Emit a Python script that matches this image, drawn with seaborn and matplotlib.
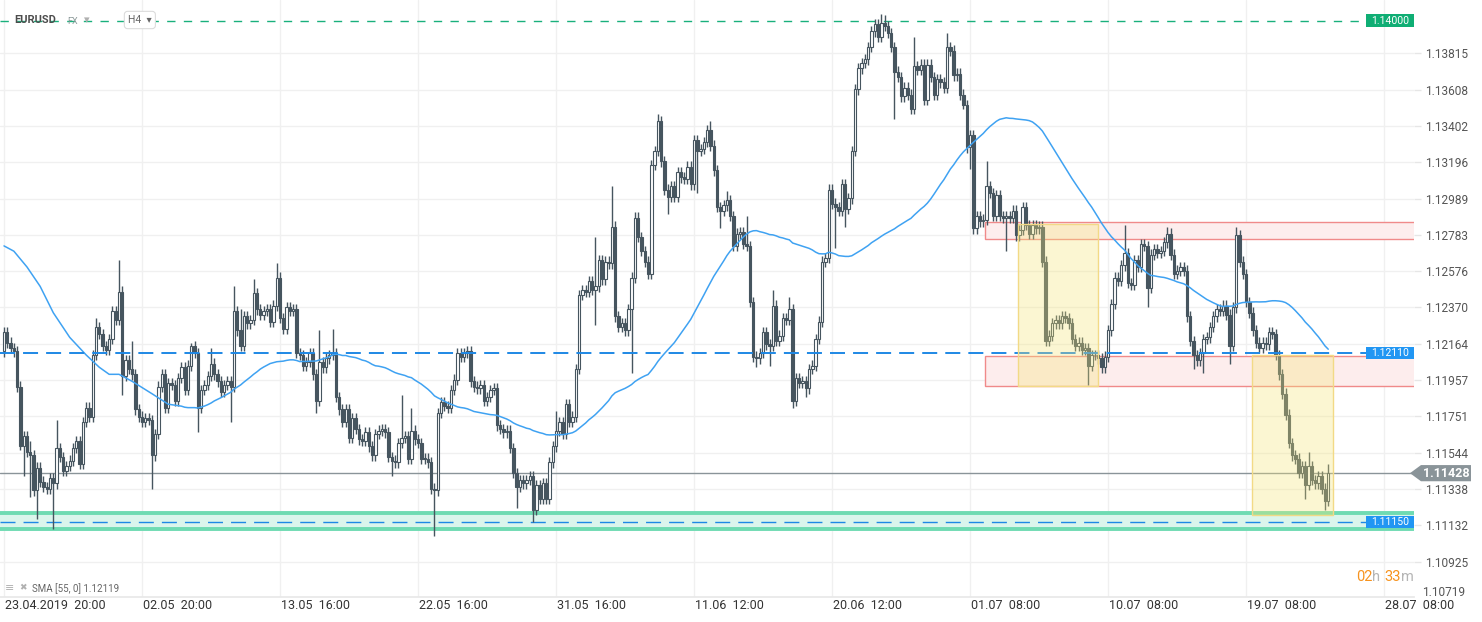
import numpy as np
import pandas as pd
import matplotlib
matplotlib.use("Agg")
import matplotlib.pyplot as plt
import seaborn as sns
from matplotlib.patches import Rectangle, Polygon
from matplotlib.transforms import blended_transform_factory as blend

# ---------------- data (prices in pips above 1.1000) ----------------
BASE, PIP = 1.1, 0.0001
FIRST_OPEN = 212
closes = [
    223, 217, 214, 212, 192, 158, 164, 155, 153, 133,
    146, 138, 135, 134, 140, 137, 157, 152, 144, 147,
    150, 157, 161, 148, 172, 180, 175, 210, 226, 222,
    215, 213, 219, 235, 230, 246, 198, 207, 202, 199,
    179, 175, 172, 174, 173, 153, 165, 192, 199, 180,
    194, 193, 184, 197, 203, 190, 204, 215, 211, 180,
    190, 193, 198, 205, 199, 195, 189, 193, 195, 192,
    235, 224, 215, 232, 228, 230, 245, 236, 233, 235,
    236, 229, 238, 254, 231, 225, 237, 235, 236, 211,
    210, 204, 206, 211, 199, 184, 206, 203, 208, 210,
    211, 186, 179, 172, 179, 163, 174, 168, 162, 161,
    166, 158, 153, 165, 167, 168, 166, 152, 150, 149,
    160, 163, 164, 151, 167, 162, 160, 151, 151, 149,
    134, 133, 177, 183, 181, 180, 190, 196, 211, 209,
    211, 212, 195, 192, 191, 193, 184, 186, 190, 191,
    170, 168, 166, 167, 157, 143, 135, 139, 137, 139,
    141, 122, 136, 128, 137, 128, 149, 158, 167, 172,
    165, 182, 172, 175, 202, 244, 247, 246, 252, 247,
    249, 264, 253, 263, 262, 283, 232, 226, 228, 224,
    236, 254, 288, 277, 269, 263, 256, 318, 326, 343,
    320, 304, 300, 306, 300, 314, 311, 310, 317, 307,
    332, 326, 327, 331, 338, 329, 315, 294, 292, 295,
    298, 289, 272, 279, 280, 273, 272, 240, 209, 208,
    211, 223, 216, 215, 238, 218, 221, 231, 230, 236,
    184, 197, 194, 195, 191, 202, 204, 219, 229, 263,
    265, 304, 296, 294, 292, 307, 293, 299, 326, 361,
    373, 376, 378, 385, 394, 398, 391, 399, 397, 393,
    385, 371, 368, 357, 362, 358, 350, 374, 372, 375,
    355, 375, 368, 358, 367, 365, 362, 385, 383, 369,
    370, 358, 352, 328, 335, 282, 289, 286, 287, 306,
    302, 289, 301, 289, 288, 289, 288, 292, 278, 281,
    294, 284, 279, 284, 282, 283, 263, 218, 221, 228,
    230, 228, 232, 231, 228, 219, 215, 217, 213, 214,
    204, 210, 210, 208, 203, 209, 224, 239, 254, 252,
    261, 268, 251, 250, 264, 260, 273, 272, 248, 267,
    270, 268, 269, 274, 279, 267, 256, 258, 260, 258,
    232, 218, 210, 207, 211, 219, 220, 226, 232, 236,
    235, 238, 233, 215, 237, 278, 263, 256, 240, 234,
    224, 217, 214, 217, 216, 223, 222, 210, 199, 188,
    176, 160, 153, 151, 143, 147, 136, 147, 139, 137,
    141, 134, 127, 142.8,
]
high_spikes = {0: 226, 8: 161, 16: 173, 28: 231, 35: 264, 39: 218, 57: 217, 63: 214,
               70: 249, 72: 236, 76: 253, 83: 262, 96: 224, 100: 225, 121: 187, 124: 180,
               168: 178, 180: 277, 185: 306, 199: 347, 215: 343, 220: 303, 226: 289,
               234: 247, 239: 243, 267: 404, 268: 403, 277: 391, 287: 393, 299: 320,
               341: 284, 354: 283, 375: 283, 397: 155, 403: 148}
low_spikes = {5: 156, 6: 141, 8: 129, 10: 117, 15: 111, 36: 187, 45: 134, 59: 166,
              69: 172, 95: 177, 118: 141, 131: 107, 156: 123, 161: 115, 180: 227,
              191: 200, 202: 290, 211: 302, 218: 282, 229: 203, 233: 204, 240: 180,
              244: 186, 253: 271, 256: 283, 271: 344, 292: 350, 294: 316, 305: 269,
              330: 193, 348: 237, 362: 202, 365: 200, 373: 205, 396: 128, 402: 122}
WICK = 3
sma_early_idx = [0, 3, 7, 11, 15, 20, 25, 29, 32, 35, 39, 45, 50]
sma_early = [272, 269, 260, 249, 234, 220, 210, 203, 199, 199, 195, 188, 182]
SMA_N = 55

grid_idx = [0, 42, 84, 126, 168, 210, 252, 294, 336, 378, 420]
x_labels = ["23.04.2019  20:00", "02.05  20:00", "13.05  16:00", "22.05  16:00",
            "31.05  16:00", "11.06  12:00", "20.06  12:00", "01.07  08:00",
            "10.07  08:00", "19.07  08:00", "28.07  08:00"]
y_ticks = [1.13815, 1.13608, 1.13402, 1.13196, 1.12989, 1.12783, 1.12576, 1.12370,
           1.12164, 1.11957, 1.11751, 1.11544, 1.11338, 1.11132, 1.10925, 1.10719]
level_top = 1.14000
level_mid = 1.12110
level_low = 1.11150
last_price = 1.11428
teal_band = (1.11108, 1.11201)
pink_zones = [(298.5, 1.12760, 1.12856), (298.5, 1.11921, 1.12093)]
yellow_boxes = [(308.7, 333.0, 1.11925, 1.12843), (379.9, 404.4, 1.11190, 1.12100)]

# ---------------- style ----------------
sns.set_theme(style="white")
plt.rcParams['font.family'] = ['Roboto', 'DejaVu Sans']
plt.rcParams['lines.scale_dashes'] = False

W, H = 1482, 622
AX_R, AX_B = 1414, 597
fig = plt.figure(figsize=(W / 100, H / 100), dpi=100)
ax = fig.add_axes([0, 1 - AX_B / H, AX_R / W, AX_B / H])
ax.set_xlim(-1.22, 429.1)
Y0, Y1 = 1.10724, 1.14118
ax.set_ylim(Y0, Y1)

DARK = '#46555f'

# ---------------- candles ----------------
c = BASE + PIP * np.array(closes, float)
o = BASE + PIP * np.array([FIRST_OPEN] + closes[:-1], float)
n = len(c)
idx = np.arange(n)
top = np.maximum(o, c)
bot = np.minimum(o, c)
hi = top + WICK * PIP
lo = bot - WICK * PIP
for k, v in high_spikes.items():
    hi[k] = max(top[k], BASE + PIP * v)
for k, v in low_spikes.items():
    lo[k] = min(bot[k], BASE + PIP * v)

ax.vlines(idx, lo, hi, color=DARK, lw=1, zorder=3)
up = c >= o
ax.bar(idx, np.maximum(top - bot, 0.2 * PIP), bottom=bot, width=0.72,
       color=['white' if u else DARK for u in up], edgecolor=DARK, linewidth=0.8, zorder=4)

# ---------------- SMA ----------------
sma_calc = pd.Series(c).rolling(SMA_N).mean()
sma_df = pd.DataFrame({
    'i': list(sma_early_idx) + list(idx[SMA_N - 1:]),
    'v': list(BASE + PIP * np.array(sma_early, float)) + list(sma_calc.values[SMA_N - 1:]),
})
sns.lineplot(data=sma_df, x='i', y='v', ax=ax, color='#3fa2f2', lw=1.1,
             estimator=None, sort=False, zorder=5)

# ---------------- zones / levels ----------------
ax.axhspan(teal_band[0], teal_band[1], color='#dbf5ec', zorder=1, lw=0)
ax.axhline(teal_band[0], color='#6fdbb2', lw=2.8, zorder=1.2)
ax.axhline(teal_band[1], color='#6fdbb2', lw=2.8, zorder=1.2)

for x0, y0, y1 in pink_zones:
    ax.add_patch(Rectangle((x0, y0), 440 - x0, y1 - y0, fc='#fdeded', ec='#f08a8a',
                           lw=1, zorder=1.5))
for x0, x1, y0, y1 in yellow_boxes:
    ax.add_patch(Rectangle((x0, y0), x1 - x0, y1 - y0, fc=(0.96, 0.90, 0.47, 0.33),
                           ec='#f2da86', lw=1, zorder=6))

xb = 1366 / AX_R
ax.axhline(level_top, xmax=xb, color='#19b07c', lw=1, ls=(0, (6, 6)), zorder=2)
ax.axhline(level_mid, xmax=xb, color='#1e88e5', lw=1.4, ls=(0, (10.8, 5.8)), zorder=5.5)
ax.axhline(level_low, xmax=xb, color='#1e88e5', lw=1.0, ls=(0, (10.8, 5.8)), zorder=2)
ax.axhline(last_price, color='#8a9499', lw=1, zorder=2)

tr = blend(ax.transAxes, ax.transData)
def level_box(y, text, fc, hh):
    ax.add_patch(Rectangle((xb, y - hh), 1 - xb, 2 * hh, transform=tr, fc=fc, ec='none',
                           zorder=7, clip_on=False))
    ax.text((xb + 1) / 2, y, text, transform=tr, color='white', ha='center', va='center',
            fontsize=7.5, zorder=8)

level_box(level_top, f"{level_top:.5f}", '#0fae74', 3.6 * PIP)
level_box(level_mid, f"{level_mid:.5f}", '#2196f3', 3.3 * PIP)
level_box(level_low, f"{level_low:.5f}", '#2196f3', 3.3 * PIP)

hp = 4.6 * PIP
pts = [(1410 / AX_R, last_price), (1421 / AX_R, last_price + hp), (1471 / AX_R, last_price + hp),
       (1471 / AX_R, last_price - hp), (1421 / AX_R, last_price - hp)]
ax.add_patch(Polygon(pts, closed=True, transform=tr, fc='#8a9499', ec='none', zorder=8,
                     clip_on=False))
ax.text(1446 / AX_R, last_price, f"{last_price:.5f}", transform=tr, color='white',
        ha='center', va='center', fontsize=9, fontweight='bold', zorder=9, clip_on=False)

# ---------------- axes ----------------
ax.yaxis.tick_right()
in_view = [v for v in y_ticks if Y0 <= v <= Y1]
ax.set_yticks(in_view)
ax.set_yticklabels([f"{v:.5f}" for v in in_view])
ax.tick_params(axis='y', length=5, color='#e6e6e6', width=1, pad=3, labelsize=8.6,
               labelcolor='#555555', right=True, left=False)
# lowest tick label is pinned just inside the bottom edge, as in the source
for v in y_ticks:
    if v < Y0:
        ax.text(1422 / AX_R, 1 - 592 / AX_B, f"{v:.5f}", transform=ax.transAxes,
                ha='left', va='center', fontsize=8.6, color='#555555', clip_on=False)
ax.set_xticks(grid_idx)
ax.set_xticklabels([])
ax.tick_params(axis='x', length=0)
ax.grid(True, color='#f0f0f0', lw=1, zorder=0)
ax.set_axisbelow(True)
for s in ['top', 'left', 'right']:
    ax.spines[s].set_visible(False)
ax.spines['bottom'].set_color('#e8e8e8')
ax.set_xlabel('')
ax.set_ylabel('')

trx = blend(ax.transData, ax.transAxes)
for gi, lab in zip(grid_idx, x_labels):
    ax.text(gi + 0.3, -0.0135, lab, transform=trx, ha='left', va='center', fontsize=9,
            color='#333333', clip_on=False)

# ---------------- header / footer texts ----------------
def ft(xp, yp, s, **kw):
    fig.text(xp / W, 1 - yp / H, s, va='center', **kw)

ft(14, 20, "EURUSD", fontsize=8, fontweight='bold', color='#4d4d4d')
ft(67, 21, "FX", fontsize=6.5, color='#8c9a9a')
ft(84, 20, "▾", fontsize=8, color='#b0b0b0', family=['DejaVu Sans'])
ft(128, 20, "H4  ▾", fontsize=7.5, color='#666666', family=['Roboto', 'DejaVu Sans'],
   bbox=dict(boxstyle='round,pad=0.35,rounding_size=0.3', fc='white', ec='#dcdcdc', lw=0.8))

ft(5, 588, "≡", fontsize=8, color='#b0b0b0', family=['DejaVu Sans'])
ft(19, 588, "✖", fontsize=6.5, color='#b0b0b0', family=['DejaVu Sans'])
ft(32, 589, "SMA [55, 0] 1.12119", fontsize=7, color='#666666')

ft(1356, 577, "02", fontsize=10.5, color='#f7931e')
ft(1372, 577, "h", fontsize=10.5, color='#b5b5b5')
ft(1384, 577, "33", fontsize=10.5, color='#f7931e')
ft(1401, 577, "m", fontsize=10.5, color='#b5b5b5')

fig.savefig("out.png", dpi=100, facecolor='white')
